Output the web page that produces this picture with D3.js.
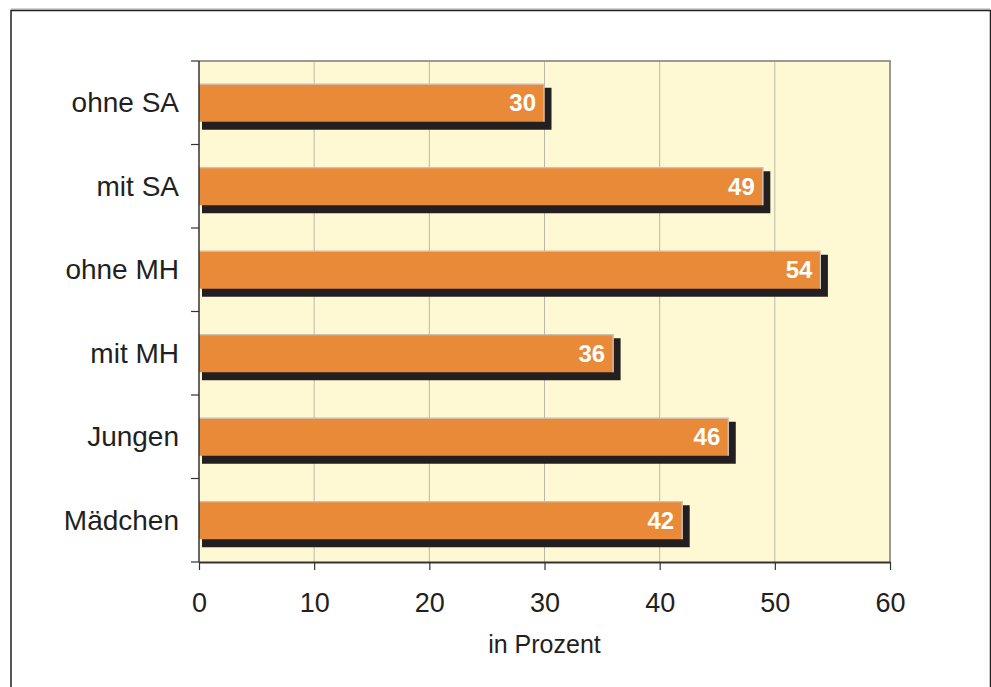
<!DOCTYPE html>
<html lang="de">
<head>
<meta charset="UTF-8" />
<title>in Prozent</title>
<script src="https://d3js.org/d3.v7.min.js"></script>
<style>
  body { margin: 0; background: #fff; font-family: "Liberation Sans", Arial, sans-serif; }
  svg { display: block; }
</style>
</head>
<body>
<svg id="chart" width="991" height="687"></svg>
<script>
const categories = ["ohne SA", "mit SA", "ohne MH", "mit MH", "Jungen", "Mädchen"];
const values = [30, 49, 54, 36, 46, 42];
const xTicks = [0, 10, 20, 30, 40, 50, 60];
const xTitle = "in Prozent";

const svg = d3.select("#chart");
const margin = { top: 61, right: 101, bottom: 125, left: 199 };
const width = 991 - margin.left - margin.right;
const height = 687 - margin.top - margin.bottom;

// outer frame (bottom runs off the picture)
svg.append("line").attr("x1", 11).attr("x2", 990).attr("y1", 9).attr("y2", 9).attr("stroke", "#aaa");
svg.append("path")
  .attr("d", `M11,700 V10.5 H990.5 V700`)
  .attr("fill", "none").attr("stroke", "#222").attr("stroke-width", 1.5);

const g = svg.append("g").attr("transform", `translate(${margin.left},${margin.top})`);

const x = d3.scaleLinear().domain([0, 60]).range([0, width]);
const y = d3.scaleBand().domain(categories).range([0, height]).paddingInner(0.545).paddingOuter(0.2725);
const band = d3.scaleBand().domain(categories).range([0, height]);

// plot background
g.append("rect").attr("width", width).attr("height", height).attr("fill", "#FEF9D2");

// gridlines
g.append("g").selectAll("line")
  .data(xTicks.filter(t => t > 0 && t < 60)).join("line")
  .attr("x1", d => x(d)).attr("x2", d => x(d))
  .attr("y1", 0).attr("y2", height)
  .attr("stroke", "#b8b8b0").attr("stroke-width", 1);

// top / right border
g.append("path").attr("d", `M0,0 H${width} V${height}`)
  .attr("fill", "none").attr("stroke", "#999").attr("stroke-width", 2);

// shadows
g.selectAll("rect.shadow").data(values).join("rect")
  .attr("class", "shadow")
  .attr("x", 3)
  .attr("y", (d, i) => y(categories[i]) + 4)
  .attr("width", d => x(d) + 4)
  .attr("height", y.bandwidth() + 4)
  .attr("fill", "#231f20");

// bars
g.selectAll("rect.bar").data(values).join("rect")
  .attr("class", "bar")
  .attr("x", 0)
  .attr("y", (d, i) => y(categories[i]))
  .attr("width", d => x(d))
  .attr("height", y.bandwidth())
  .attr("fill", "#E88A38");

// light edge on top and right of each bar
g.selectAll("path.edge").data(values).join("path")
  .attr("class", "edge")
  .attr("d", (d, i) => `M0,${y(categories[i]) + 0.5} H${x(d) - 0.5} V${y(categories[i]) + y.bandwidth()}`)
  .attr("fill", "none").attr("stroke", "#c9c9c9").attr("stroke-width", 1.2);

// value labels
g.selectAll("text.val").data(values).join("text")
  .attr("class", "val")
  .attr("x", d => x(d) - 8.5)
  .attr("y", (d, i) => y(categories[i]) + y.bandwidth() / 2 + 8.5)
  .attr("text-anchor", "end")
  .attr("fill", "#fff")
  .attr("font-weight", "bold")
  .attr("font-size", 24)
  .text(d => d);

// y axis
const yAxis = g.append("g");
yAxis.append("line").attr("x1", 0).attr("x2", 0).attr("y1", 0).attr("y2", height)
  .attr("stroke", "#333").attr("stroke-width", 1.5);
yAxis.selectAll("line.tk").data(d3.range(categories.length + 1)).join("line")
  .attr("class", "tk")
  .attr("x1", -8).attr("x2", 0)
  .attr("y1", i => i * band.step()).attr("y2", i => i * band.step())
  .attr("stroke", "#333").attr("stroke-width", 1.2);
yAxis.selectAll("text").data(categories).join("text")
  .attr("x", -20)
  .attr("y", d => band(d) + band.bandwidth() / 2 + 9.5)
  .attr("text-anchor", "end")
  .attr("font-size", 28)
  .attr("fill", "#231f20")
  .text(d => d);

// x axis
const xAxis = g.append("g").attr("transform", `translate(0,${height})`)
  .call(d3.axisBottom(x).tickValues(xTicks).tickSize(8).tickSizeOuter(0).tickPadding(23));
xAxis.select(".domain").attr("stroke", "#333").attr("stroke-width", 1.8);
xAxis.selectAll(".tick line").attr("stroke", "#333").attr("stroke-width", 1.2);
xAxis.selectAll(".tick text")
  .attr("font-size", 27).attr("fill", "#231f20")
  .attr("font-family", "\"Liberation Sans\", Arial, sans-serif");

g.append("text")
  .attr("x", x(30)).attr("y", height + 90.5)
  .attr("text-anchor", "middle")
  .attr("font-size", 25).attr("fill", "#231f20")
  .text(xTitle);
</script>
</body>
</html>
